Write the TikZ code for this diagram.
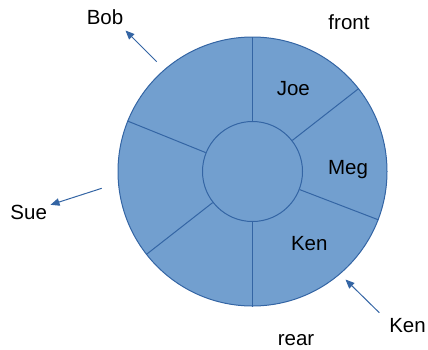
\documentclass[tikz,border=0pt]{standalone}
\usepackage{fontspec}
\setmainfont{Liberation Sans}
\usetikzlibrary{arrows.meta}
\definecolor{segfill}{HTML}{729FCF}
\definecolor{segline}{HTML}{3465A4}
\begin{document}
\begin{tikzpicture}[x=1pt,y=-1pt,
  lbl/.style={anchor=base,inner sep=0pt,font=\fontsize{20.5}{24}\selectfont},
  ring/.style={draw=segline,line width=1pt},
  pointer/.style={draw=segline,line width=1pt,-{Triangle[length=9pt,width=7.5pt]}}]
\useasboundingbox (0,0) rectangle (428,349);
\coordinate (c) at (252.5,171.5);
\node[circle,ring,fill=segfill,minimum size=269pt,inner sep=0pt] (outer) at (c) {};
\node[circle,ring,minimum size=100pt,inner sep=0pt] (inner) at (c) {};
\foreach \a in {90,38,-21.5,270,218,158.5}{
  \draw[ring] (inner.\a) -- (outer.\a);
}
\node[lbl] (joe) at (293.3,95) {Joe};
\node[lbl] (meg) at (348,174) {Meg};
\node[lbl] (ken) at (309.3,250.7) {Ken};
\node[lbl] (front) at (349,29) {front};
\node[lbl] (rear) at (296,345.5) {rear};
\node[lbl] (bob) at (105,24) {Bob};
\node[lbl] (sue) at (28.7,219.3) {Sue};
\node[lbl] (ken2) at (407.5,332.7) {Ken};
\coordinate (bobT) at (156.7,61.7);
\coordinate (bobH) at (125.5,30.5);
\coordinate (sueT) at (101.7,188.3);
\coordinate (sueH) at (50.5,204.8);
\coordinate (kenT) at (379.3,312.7);
\coordinate (kenH) at (345.5,279.5);
\draw[pointer] (bobT) -- (bobH);
\draw[pointer] (sueT) -- (sueH);
\draw[pointer] (kenT) -- (kenH);
\end{tikzpicture}
\end{document}
